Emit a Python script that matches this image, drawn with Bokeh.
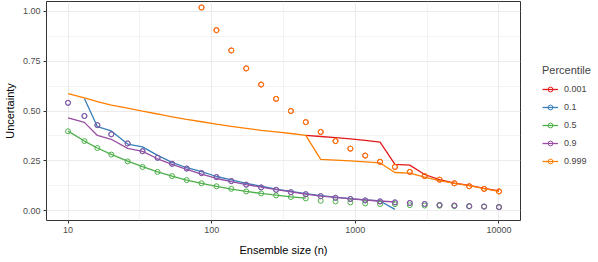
from bokeh.plotting import figure
from bokeh.models import (FixedTicker, Legend, LegendItem, Range1d,
                          PrintfTickFormatter)
from bokeh.embed import file_html
from bokeh.resources import INLINE

nan = float("nan")

ensemble_size = [10, 13, 16, 20, 26, 33, 42, 53, 67, 85, 108, 137, 174, 221,
                 281, 356, 452, 574, 728, 924, 1172, 1487, 1887, 2395, 3039,
                 3857, 4894, 6210, 7880, 10000]

percentiles = ["0.001", "0.1", "0.5", "0.9", "0.999"]
colors = ["#E41A1C", "#377EB8", "#4DAF4A", "#984EA3", "#FF7F00"]

# line series (one per percentile); 0.001 only visible where it leaves 0.999
line_p001 = [nan, nan, nan, nan, nan, nan, nan, nan, nan,
             nan, nan, nan, nan, nan, nan, nan, 0.378,
             0.372, 0.366, 0.360, 0.352, 0.344,
             0.232, 0.228, 0.181, 0.155, 0.138, 0.126, 0.111, 0.099]
line_p1 = [nan, 0.563, 0.421, 0.400, 0.334, 0.320, 0.277, 0.242, 0.215, 0.195,
           0.171, 0.154, 0.137, 0.122, 0.108, 0.096, 0.085, 0.075, 0.067,
           0.060, 0.054, 0.048, 0.006, nan, nan, nan, nan, nan, nan, nan]
line_p5 = [0.399, 0.349, 0.314, 0.282, 0.248, 0.221, 0.194, 0.173, 0.153,
           0.137, 0.121, 0.108, 0.096, 0.086, 0.077, 0.069, 0.062,
           nan, nan, nan, nan, nan, nan, nan, nan, nan, nan, nan, nan, nan]
line_p9 = [0.466, 0.443, 0.377, 0.358, 0.312, 0.297, 0.260, 0.232, 0.207,
           0.183, 0.161, 0.145, 0.130, 0.118, 0.105, 0.094, 0.082, 0.072,
           0.066, 0.059, 0.053, 0.048, 0.043,
           nan, nan, nan, nan, nan, nan, nan]
line_p999 = [0.587, 0.566, 0.547, 0.530, 0.514, 0.499, 0.485, 0.471, 0.458,
             0.446, 0.434, 0.423, 0.413, 0.403, 0.395, 0.387, 0.378,
             0.257, 0.253, 0.249, 0.244, 0.239,
             0.191, 0.188, 0.168, 0.150, 0.137, 0.125, 0.110, 0.096]

# point series (one per percentile)
pts_p999 = [nan, nan, nan, nan, nan, nan, nan, nan, nan,
            1.020, 0.906, 0.804, 0.714, 0.633, 0.561, 0.500, 0.444, 0.395,
            0.349, 0.311, 0.276, 0.245, 0.219, 0.194, 0.173, 0.155, 0.137,
            0.122, 0.109, 0.096]
pts_p001 = list(pts_p999)
pts_p9 = [0.541, 0.475, 0.429, 0.383, 0.337, 0.298, 0.265, 0.235, 0.211,
          0.188, 0.168, 0.148, 0.130, 0.116, 0.104, 0.092, 0.082, 0.072,
          0.064, 0.058, 0.051, 0.046, 0.041, 0.038, 0.033, 0.028, 0.025,
          0.022, 0.020, 0.017]
pts_p1 = list(pts_p9)
pts_p5 = [0.398, 0.349, 0.314, 0.281, 0.247, 0.219, 0.194, 0.173, 0.153,
          0.137, 0.122, 0.109, 0.096, 0.086, 0.076, 0.068, 0.061, 0.049,
          0.046, 0.041, 0.036, 0.033, 0.032, 0.027, 0.025, 0.024, 0.022,
          0.021, 0.020, 0.018]

x_ticks = [10, 100, 1000, 10000]
x_tick_labels = ["10", "100", "1000", "10000"]
x_minor = [31.62, 316.2, 3162.3]
y_ticks = [0.0, 0.25, 0.5, 0.75, 1.0]
y_minor = [0.125, 0.375, 0.625, 0.875]

lines = [line_p001, line_p1, line_p5, line_p9, line_p999]
points = [pts_p001, pts_p1, pts_p5, pts_p9, pts_p999]

FONT = "Liberation Sans"

p = figure(x_axis_type="log", output_backend="svg", toolbar_location=None,
           frame_width=474, frame_height=219,
           min_border_left=37, min_border_right=71, min_border_top=1,
           min_border_bottom=5,
           x_range=Range1d(10 ** 0.85, 10 ** 4.15),
           y_range=Range1d(-0.05, 1.05))

p.background_fill_color = "white"
p.border_fill_color = "white"
p.outline_line_color = "#333333"
p.outline_line_width = 1

p.xaxis.ticker = FixedTicker(ticks=x_ticks, minor_ticks=x_minor)
p.yaxis.ticker = FixedTicker(ticks=y_ticks, minor_ticks=y_minor)
p.xaxis.major_label_overrides = dict(zip(x_ticks, x_tick_labels))
p.yaxis.formatter = PrintfTickFormatter(format="%.2f")

for ax in (p.xaxis, p.yaxis):
    ax.axis_line_color = None
    ax.major_tick_line_color = "#333333"
    ax.major_tick_out = 3
    ax.major_tick_in = 0
    ax.minor_tick_line_color = None
    ax.major_label_text_font = FONT
    ax.major_label_text_font_size = "9px"
    ax.major_label_text_color = "#4D4D4D"
    ax.major_label_standoff = 2
    ax.axis_label_text_font = FONT
    ax.axis_label_text_font_size = "11px"
    ax.axis_label_text_font_style = "normal"
    ax.axis_label_text_color = "black"
p.xaxis.axis_label_standoff = 8
p.yaxis.axis_label_standoff = 4

p.xaxis.axis_label = "Ensemble size (n)"
p.yaxis.axis_label = "Uncertainty"

for g in (p.xgrid, p.ygrid):
    g.grid_line_color = "#EBEBEB"
    g.grid_line_width = 1
    g.minor_grid_line_color = "#EBEBEB"
    g.minor_grid_line_width = 0.6

line_rs = []
for vals, c in zip(lines, colors):
    line_rs.append(p.line(ensemble_size, vals, line_color=c, line_width=1.3))
pt_rs = []
for vals, c in zip(points, colors):
    pt_rs.append(p.scatter(ensemble_size, vals, marker="circle", size=5,
                           fill_color=None, line_color=c, line_width=1))

items = [LegendItem(label=lab, renderers=[lr, pr])
         for lab, lr, pr in zip(percentiles, line_rs, pt_rs)]
legend = Legend(items=items, location=(22, 50), orientation="vertical",
                title="Percentile", title_text_font=FONT,
                title_text_font_size="11px", title_text_font_style="normal",
                title_standoff=4,
                label_text_font=FONT, label_text_font_size="9px",
                glyph_width=16, glyph_height=12, label_height=18,
                label_standoff=6, spacing=0, padding=0, margin=0,
                border_line_color=None, background_fill_alpha=0)
p.add_layout(legend, "right")

open("out.html", "w").write(file_html(p, INLINE))
